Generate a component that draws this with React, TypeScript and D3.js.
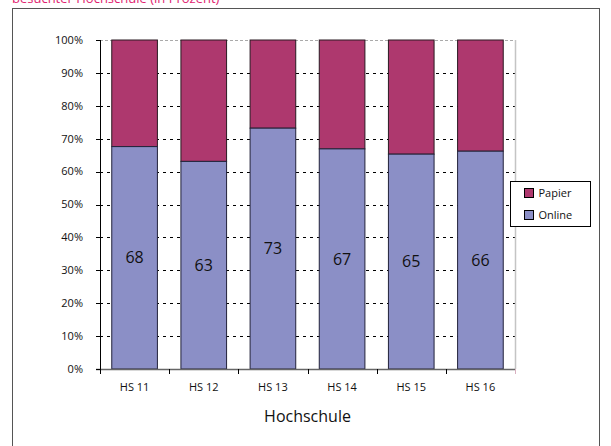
import React, { useEffect, useRef } from 'react';
import * as d3 from 'd3';

// Anteil Online / Papier je Hochschule (in Prozent)
const categories = ['HS 11', 'HS 12', 'HS 13', 'HS 14', 'HS 15', 'HS 16'];
const online = [67.6, 63.1, 73.2, 66.9, 65.3, 66.2];
const papier = online.map(v => 100 - v);
const onlineLabels = ['68', '63', '73', '67', '65', '66'];
const yTicks = [0, 10, 20, 30, 40, 50, 60, 70, 80, 90, 100];
const seriesNames = ['Papier', 'Online'];

const W = 611;
const H = 446;
const FONT = "'Open Sans', 'DejaVu Sans', sans-serif";
const COL_PAPIER = '#ae386e';
const COL_ONLINE = '#8b8fc6';

export default function App() {
    const svgRef = useRef<SVGSVGElement>(null);

    useEffect(() => {
        if (!svgRef.current) return;
        const svg = d3.select(svgRef.current);
        svg.selectAll('*').remove();

        const plot = { left: 100, right: 515, top: 40, bottom: 369 };

        // outer frame (runs off the bottom of the picture)
        svg.append('rect')
            .attr('x', 12.5).attr('y', 8.5)
            .attr('width', 587).attr('height', 460)
            .attr('fill', 'none').attr('stroke', '#555').attr('stroke-width', 1);

        // title, cut off at the top
        svg.append('text')
            .attr('x', 12).attr('y', 3)
            .style('font-family', FONT).style('font-size', '13px')
            .style('fill', '#e0236f')
            .text('besuchter Hochschule (in Prozent)');

        const x = d3.scaleBand<string>()
            .domain(categories)
            .range([plot.left, plot.right])
            .paddingInner(0.34)
            .paddingOuter(0.17);
        const step = (plot.right - plot.left) / categories.length;

        const y = d3.scaleLinear().domain([0, 100]).range([plot.bottom, plot.top]);

        // gridlines
        svg.append('g').selectAll('line')
            .data(yTicks.filter(t => t > 0 && t < 100))
            .enter().append('line')
            .attr('x1', plot.left).attr('x2', plot.right)
            .attr('y1', d => Math.round(y(d)) + 0.5).attr('y2', d => Math.round(y(d)) + 0.5)
            .attr('stroke', '#000').attr('stroke-width', 1)
            .attr('stroke-dasharray', '3,4');

        // top line + right edge (light grey)
        svg.append('line')
            .attr('x1', plot.left).attr('x2', plot.right)
            .attr('y1', plot.top + 0.5).attr('y2', plot.top + 0.5)
            .attr('stroke', '#aaa').attr('stroke-dasharray', '3,2');
        svg.append('line')
            .attr('x1', plot.right + 0.5).attr('x2', plot.right + 0.5)
            .attr('y1', plot.top).attr('y2', plot.bottom)
            .attr('stroke', '#c4c4c4').attr('stroke-width', 1.5);

        // bars
        const bars = svg.append('g');
        categories.forEach((c, i) => {
            const bx = x(c)!;
            bars.append('rect')
                .attr('x', bx).attr('width', x.bandwidth())
                .attr('y', y(100)).attr('height', y(online[i]) - y(100))
                .attr('fill', COL_PAPIER).attr('stroke', '#2a1a22').attr('stroke-width', 1);
            bars.append('rect')
                .attr('x', bx).attr('width', x.bandwidth())
                .attr('y', y(online[i])).attr('height', y(0) - y(online[i]))
                .attr('fill', COL_ONLINE).attr('stroke', '#22223a').attr('stroke-width', 1);
            bars.append('text')
                .attr('x', bx + x.bandwidth() / 2)
                .attr('y', (y(online[i]) + y(0)) / 2)
                .attr('dy', '0.35em')
                .attr('text-anchor', 'middle')
                .style('font-family', FONT).style('font-size', '16px').style('fill', '#111')
                .text(onlineLabels[i]);
        });

        // x axis line
        svg.append('line')
            .attr('x1', plot.left - 4).attr('x2', plot.right)
            .attr('y1', plot.bottom + 0.5).attr('y2', plot.bottom + 0.5)
            .attr('stroke', '#666').attr('stroke-width', 1.5);

        // x ticks between categories
        svg.append('g').selectAll('line')
            .data(d3.range(categories.length + 1))
            .enter().append('line')
            .attr('x1', d => Math.round(plot.left + d * step) + 0.5)
            .attr('x2', d => Math.round(plot.left + d * step) + 0.5)
            .attr('y1', plot.bottom).attr('y2', plot.bottom + 5)
            .attr('stroke', d => d === categories.length ? '#d8b0c0' : '#000');

        // x labels
        svg.append('g').selectAll('text')
            .data(categories)
            .enter().append('text')
            .attr('x', d => x(d)! + x.bandwidth() / 2)
            .attr('y', plot.bottom + 22)
            .attr('text-anchor', 'middle')
            .style('font-family', FONT).style('font-size', '11px').style('fill', '#111')
            .text(d => d);

        // y axis
        svg.append('line')
            .attr('x1', plot.left + 0.5).attr('x2', plot.left + 0.5)
            .attr('y1', plot.top).attr('y2', plot.bottom + 5)
            .attr('stroke', '#000').attr('stroke-width', 1);
        svg.append('g').selectAll('line')
            .data(yTicks)
            .enter().append('line')
            .attr('x1', plot.left - 4).attr('x2', plot.left)
            .attr('y1', d => Math.round(y(d)) + 0.5).attr('y2', d => Math.round(y(d)) + 0.5)
            .attr('stroke', '#000');
        svg.append('g').selectAll('text')
            .data(yTicks)
            .enter().append('text')
            .attr('x', 83)
            .attr('y', d => y(d))
            .attr('dy', '0.35em')
            .attr('text-anchor', 'end')
            .style('font-family', FONT).style('font-size', '11px').style('fill', '#111')
            .text(d => `${d}%`);

        // axis title
        svg.append('text')
            .attr('x', (plot.left + plot.right) / 2)
            .attr('y', 422)
            .attr('text-anchor', 'middle')
            .style('font-family', FONT).style('font-size', '16px').style('fill', '#111')
            .text('Hochschule');

        // legend
        const lg = svg.append('g').attr('transform', 'translate(510.5,181.5)');
        lg.append('rect')
            .attr('width', 80).attr('height', 45)
            .attr('fill', '#fff').attr('stroke', '#000');
        const colors = [COL_PAPIER, COL_ONLINE];
        seriesNames.forEach((n, i) => {
            lg.append('rect')
                .attr('x', 14).attr('y', 7 + i * 22)
                .attr('width', 9).attr('height', 9)
                .attr('fill', colors[i]).attr('stroke', '#000');
            lg.append('text')
                .attr('x', 28).attr('y', 12 + i * 22)
                .attr('dy', '0.35em')
                .style('font-family', FONT).style('font-size', '11px').style('fill', '#111')
                .text(n);
        });
    }, []);

    return (
        <svg
            ref={svgRef}
            width={W}
            height={H}
            style={{ position: 'absolute', left: 0, top: 0, background: '#fff', display: 'block' }}
        />
    );
}
